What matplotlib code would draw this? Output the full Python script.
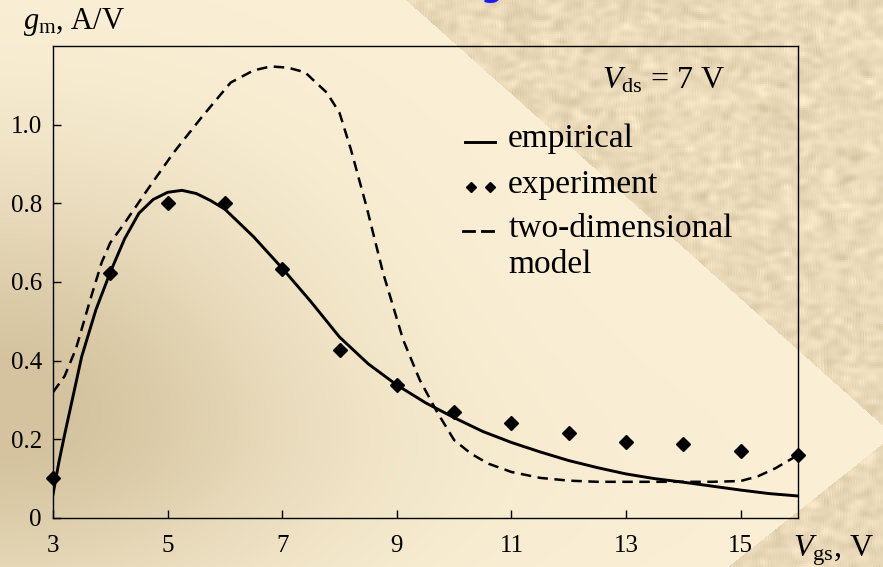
import numpy as np
import matplotlib
matplotlib.use("Agg")
import matplotlib.pyplot as plt

plt.rcParams['font.family'] = ['Liberation Serif', 'DejaVu Serif']
plt.rcParams['mathtext.fontset'] = 'custom'
plt.rcParams['mathtext.rm'] = 'Liberation Serif'
plt.rcParams['mathtext.it'] = 'Liberation Serif:italic'

# transconductance vs gate voltage, Vds = 7 V
vgs_emp = [3.0, 3.1, 3.2, 3.35, 3.5, 3.75, 4.0, 4.25, 4.5, 4.75, 5.0, 5.25, 5.5,
           5.75, 6.0, 6.5, 7.0, 7.5, 8.0, 8.5, 9.0, 9.5, 10.0, 10.5, 11.0, 11.5,
           12.0, 12.5, 13.0, 13.5, 14.0, 14.5, 15.0, 15.5, 16.0]
gm_emp = [0.06, 0.14, 0.21, 0.31, 0.41, 0.53, 0.625, 0.71, 0.775, 0.81, 0.828,
          0.833, 0.825, 0.807, 0.785, 0.715, 0.635, 0.55, 0.46, 0.392, 0.338,
          0.293, 0.255, 0.22, 0.192, 0.168, 0.146, 0.128, 0.112, 0.1, 0.091,
          0.081, 0.071, 0.062, 0.056]

vgs_exp = [3, 4, 5, 6, 7, 8, 9, 10, 11, 12, 13, 14, 15, 16]
gm_exp = [0.102, 0.623, 0.80, 0.80, 0.634, 0.427, 0.338, 0.270, 0.242, 0.216,
          0.193, 0.188, 0.170, 0.160]

vgs_2d = [3.0, 3.2, 3.4, 3.65, 3.85, 4.0, 4.25, 4.65, 5.1, 5.6, 6.1, 6.5, 6.8,
          7.1, 7.4, 7.78, 8.0, 8.2, 8.47, 8.76, 9.11, 9.4, 9.7, 10.0, 10.3,
          10.6, 11.0, 11.5, 12.0, 12.5, 13.0, 14.0, 14.5, 15.0, 15.3, 15.6, 16.0]
gm_2d = [0.32, 0.36, 0.43, 0.555, 0.65, 0.70, 0.75, 0.835, 0.928, 1.02, 1.107,
         1.138, 1.148, 1.145, 1.133, 1.081, 1.03, 0.936, 0.792, 0.623, 0.453,
         0.351, 0.27, 0.198, 0.163, 0.138, 0.117, 0.102, 0.095, 0.092, 0.092,
         0.092, 0.092, 0.094, 0.106, 0.126, 0.16]

xticks = [3, 5, 7, 9, 11, 13, 15]
yticks = [0, 0.2, 0.4, 0.6, 0.8, 1.0]
ytick_labels = ["0", "0.2", "0.4", "0.6", "0.8", "1.0"]

W, H = 883, 567
fig = plt.figure(figsize=(W / 100, H / 100), dpi=100)

# background: cream sheet, darker toward lower left, parchment band upper right
yy, xx = np.mgrid[0:H, 0:W].astype(float)
light = np.array([251, 240, 214]) / 255
dark = np.array([212, 195, 158]) / 255
w = np.exp(-(((xx - 0) / 300) ** 2 + ((yy - 390) / 220) ** 2)) * 0.95
w += np.exp(-(((xx - 100) / 500) ** 2 + ((yy - 470) / 120) ** 2)) * 0.12
w = np.clip(w, 0, 1)[..., None]
bg = light * (1 - w) + dark * w

rng = np.random.default_rng(7)
small = rng.normal(size=(H // 4 + 2, W // 4 + 2))
tex = np.kron(small, np.ones((4, 4)))[:H, :W]
for _ in range(3):
    tex = (tex + np.roll(tex, 2, 0) + np.roll(tex, -2, 0) + np.roll(tex, 3, 1) + np.roll(tex, -3, 1)) / 5
tex = tex / tex.std()
parch = np.array([235, 218, 185]) / 255
parch_img = parch + 0.022 * tex[..., None] * np.array([1.0, 1.0, 1.1])
band = (xx > 406 + 1.12 * yy) | (yy > 567 - (xx - 727) * 0.795)
bg[band] = parch_img[band]
bg = np.clip(bg, 0, 1)

bg_ax = fig.add_axes([0, 0, 1, 1])
bg_ax.imshow(bg, aspect='auto', interpolation='bilinear')
bg_ax.set_axis_off()

ax = fig.add_axes([53 / W, 1 - 518 / H, 745 / W, 472 / H])
ax.patch.set_alpha(0)

ax.plot(vgs_emp, gm_emp, color='black', lw=2.1, solid_joinstyle='round')
ax.plot(vgs_2d, gm_2d, color='black', lw=1.8, dashes=(4.2, 2.6))
ax.plot(vgs_exp, gm_exp, linestyle='none', marker='D', ms=7, color='black',
        clip_on=False)

ax.set_xlim(3, 16)
ax.set_ylim(0, 1.2)
ax.set_xticks(xticks)
ax.set_yticks(yticks)
ax.set_yticklabels(ytick_labels)
ax.tick_params(direction='in', length=6, width=1, labelsize=18)
ax.tick_params(axis='x', pad=12)
ax.tick_params(axis='y', pad=8)
for s in ax.spines.values():
    s.set_linewidth(1.0)

# legend drawn by hand so the two-line label sits right
ax.plot([0.553, 0.593], [0.797, 0.797], color='black', lw=2.1, transform=ax.transAxes)
ax.plot([0.561, 0.587], [0.701, 0.701], linestyle='none', marker='D', ms=5.5,
        color='black', transform=ax.transAxes)
ax.plot([0.550, 0.565], [0.609, 0.609], color='black', lw=2.0, transform=ax.transAxes)
ax.plot([0.576, 0.591], [0.609, 0.609], color='black', lw=2.0, transform=ax.transAxes)
leg_kw = dict(transform=ax.transAxes, fontsize=24, va='baseline', ha='left')
ax.text(0.611, 0.786, "empirical", **leg_kw)
ax.text(0.611, 0.689, "experiment", **leg_kw)
ax.text(0.611, 0.596, "two-dimensional", **leg_kw)
ax.text(0.611, 0.519, "model", **leg_kw)

ax.text(0.737, 0.909, r"$V_{\rm ds}$ = 7 V", transform=ax.transAxes,
        fontsize=23, va='baseline', ha='left')

fig.text(23 / W, 1 - 29 / H, r"$g_{\rm m}$, A/V", fontsize=22, va='baseline', ha='left')
fig.text(793 / W, 1 - 557 / H, r"$V_{\rm gs}$, V", fontsize=23, va='baseline', ha='left')

# tail of the blue heading above the frame
fig.text(492 / W, 1 + 3 / H, "g", color='#1a1aff', fontsize=22, fontweight='bold',
         family='DejaVu Sans', va='baseline', ha='center')

fig.savefig("out.png", dpi=100)
